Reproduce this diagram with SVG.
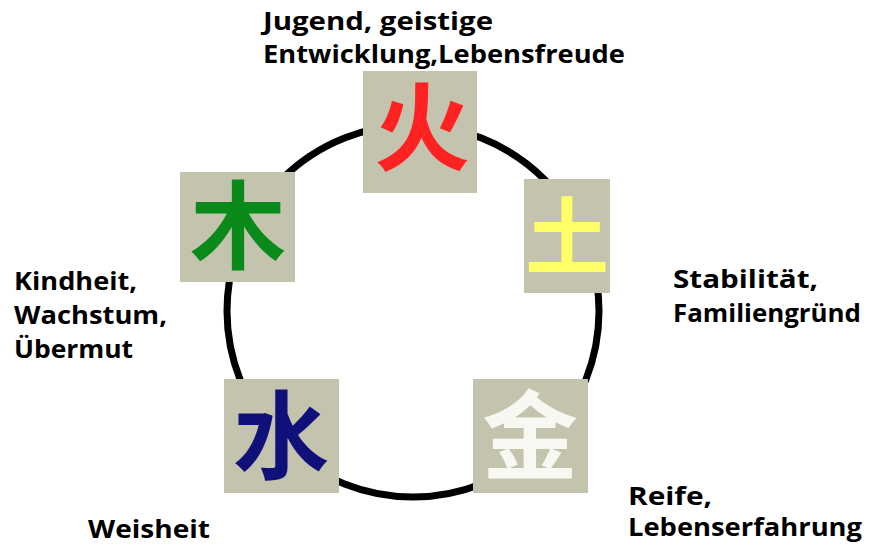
<svg xmlns="http://www.w3.org/2000/svg" width="869" height="551" viewBox="0 0 869 551">
<style>
.lbl{font-family:"Open Sans","DejaVu Sans","Liberation Sans",sans-serif;font-weight:bold;font-size:25px;fill:#000}
.box{fill:#c4c4ae}
.ch{font-family:"Noto Sans CJK SC","Noto Sans CJK JP",sans-serif;font-weight:bold;font-size:96px;text-anchor:middle}
</style>
<rect width="869" height="551" fill="#fff"/>
<g id="connectors">
<circle cx="413" cy="311" r="186" fill="none" stroke="#000" stroke-width="7"/>
</g>
<g id="fire">
<rect class="box" x="363" y="71" width="114" height="122"/>
<text class="ch" x="422" y="163" fill="#ff2222">火</text>
<text class="lbl" x="263" y="30" textLength="230" lengthAdjust="spacingAndGlyphs">Jugend, geistige</text>
<text class="lbl" x="263" y="63" textLength="362" lengthAdjust="spacingAndGlyphs">Entwicklung,Lebensfreude</text>
</g>
<g id="wood">
<rect class="box" x="180" y="172" width="115" height="110"/>
<text class="ch" x="238" y="261" fill="#0a8a1a">木</text>
<text class="lbl" x="14" y="290" textLength="123" lengthAdjust="spacingAndGlyphs">Kindheit,</text>
<text class="lbl" x="14" y="324" textLength="153" lengthAdjust="spacingAndGlyphs">Wachstum,</text>
<text class="lbl" x="14" y="358" textLength="119" lengthAdjust="spacingAndGlyphs">Übermut</text>
</g>
<g id="earth">
<rect class="box" x="524" y="179" width="86" height="114"/>
<text class="ch" x="567" y="268" fill="#ffff66" style="font-size:84px">土</text>
<text class="lbl" x="673" y="288" textLength="145" lengthAdjust="spacingAndGlyphs">Stabilität,</text>
<text class="lbl" x="673" y="322" textLength="188" lengthAdjust="spacingAndGlyphs">Familiengründ</text>
</g>
<g id="water">
<rect class="box" x="224" y="379" width="115" height="114"/>
<text class="ch" x="281" y="471" fill="#10107a">水</text>
<text class="lbl" x="88" y="538" textLength="122" lengthAdjust="spacingAndGlyphs">Weisheit</text>
</g>
<g id="metal">
<rect class="box" x="473" y="379" width="115" height="114"/>
<text class="ch" x="530" y="471" fill="#f8f8f2">金</text>
<text class="lbl" x="628" y="505" textLength="84" lengthAdjust="spacingAndGlyphs">Reife,</text>
<text class="lbl" x="628" y="536" textLength="234" lengthAdjust="spacingAndGlyphs">Lebenserfahrung</text>
</g>
</svg>
